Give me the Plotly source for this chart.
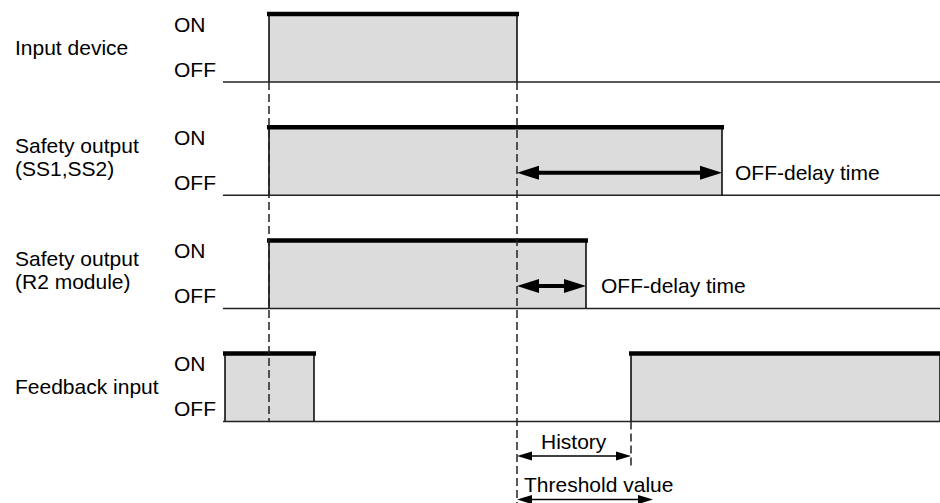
import plotly.graph_objects as go

# ---------------- data (time axis in drawing units) ----------------
row_labels = [["Input device"],
              ["Safety output", "(SS1,SS2)"],
              ["Safety output", "(R2 module)"],
              ["Feedback input"]]
state_labels = ["ON", "OFF"]

input_device_on = [(269, 517)]
safety_ss_on = [(269, 722)]
safety_r2_on = [(269, 586)]
feedback_on = [(225, 314), (631, 940)]
signals = [input_device_on, safety_ss_on, safety_r2_on, feedback_on]

t_input_on = 269
t_input_off = 517
t_feedback_on = 631
t_threshold_end = 653
t_axis_start = 223
t_axis_end = 940

delay_labels = ["OFF-delay time", "OFF-delay time"]
history_label = "History"
threshold_label = "Threshold value"

# ---------------- styling / layout constants ----------------
FONT = "Liberation Sans, Arial, Helvetica, sans-serif"
FS = 21
FILL = "#dcdcdc"
ROW0, PITCH, H = 82, 113.2, 68
bases = [ROW0 + i * PITCH for i in range(4)]

fig = go.Figure()


def line(x, y, width, color="black", dash=None):
    fig.add_trace(go.Scatter(x=x, y=y, mode="lines", hoverinfo="skip",
                             line=dict(color=color, width=width, dash=dash)))


def poly(x, y, color):
    fig.add_trace(go.Scatter(x=x, y=y, mode="lines", fill="toself", fillcolor=color,
                             hoverinfo="skip", line=dict(width=0, color=color)))


def arrow(x0, x1, y, lw, hl, hw):
    line([x0 + hl * 0.8, x1 - hl * 0.8], [y, y], lw)
    poly([x0, x0 + hl, x0 + hl, x0], [y, y - hw / 2, y + hw / 2, y], "black")
    poly([x1, x1 - hl, x1 - hl, x1], [y, y - hw / 2, y + hw / 2, y], "black")


def text(x, y, s, xanchor="left"):
    fig.add_annotation(x=x, y=y, text=s, showarrow=False, xanchor=xanchor, yanchor="middle",
                       font=dict(family=FONT, size=FS, color="black"))


# signal rows
for i, intervals in enumerate(signals):
    b = bases[i]
    t = b - H
    for (a, e) in intervals:
        poly([a, a, e, e, a], [b, t, t, b, b], FILL)
        line([a, a, None, e, e], [b, t, None, t, b], 1.5)
    line([t_axis_start, t_axis_end], [b, b], 1.5, "#222")
    for (a, e) in intervals:
        line([a - 2, e + 2], [t, t], 4.5)

# dashed reference lines
DASH = "8px,4px"
line([t_input_on, t_input_on], [bases[0], bases[3]], 1.5, "#222", DASH)
line([t_input_off, t_input_off], [bases[0], 503], 1.5, "#222", DASH)
line([t_feedback_on, t_feedback_on], [bases[3], bases[3] + 45], 1.5, "#222", DASH)

# OFF-delay arrows
ya = bases[1] - 22.5
arrow(t_input_off, safety_ss_on[0][1], ya, 4, 22, 14)
text(safety_ss_on[0][1] + 11, ya, delay_labels[0])
yb = bases[2] - 22.5
arrow(t_input_off, safety_r2_on[0][1], yb, 4, 22, 14)
text(safety_r2_on[0][1] + 13, yb, delay_labels[1])

# history / threshold
yh = bases[3] + 34.5
arrow(t_input_off, t_feedback_on, yh, 1.5, 15, 9)
text((t_input_off + t_feedback_on) / 2, bases[3] + 19.5, history_label, "center")
yt = bases[3] + 78
arrow(t_input_off, t_threshold_end, yt, 1.5, 15, 9)
text(t_input_off + 5, bases[3] + 62.5, threshold_label)

# labels
for i, lab in enumerate(row_labels):
    b = bases[i]
    if len(lab) == 1:
        text(13, b - 35, lab[0])
    else:
        text(13, b - 49.5, lab[0])
        text(13, b - 26.5, lab[1])
    text(172, b - 58, state_labels[0])
    text(172, b - 13, state_labels[1])

fig.update_layout(
    width=940, height=503,
    margin=dict(l=0, r=0, t=0, b=0),
    paper_bgcolor="white", plot_bgcolor="white",
    showlegend=False, hovermode=False,
    xaxis=dict(range=[0, 940], visible=False, fixedrange=True),
    yaxis=dict(range=[503, 0], visible=False, fixedrange=True),
)

fig.write_html("out.html", config={"displayModeBar": False},
               post_script="document.body.style.margin='0';document.body.style.overflow='hidden';")
